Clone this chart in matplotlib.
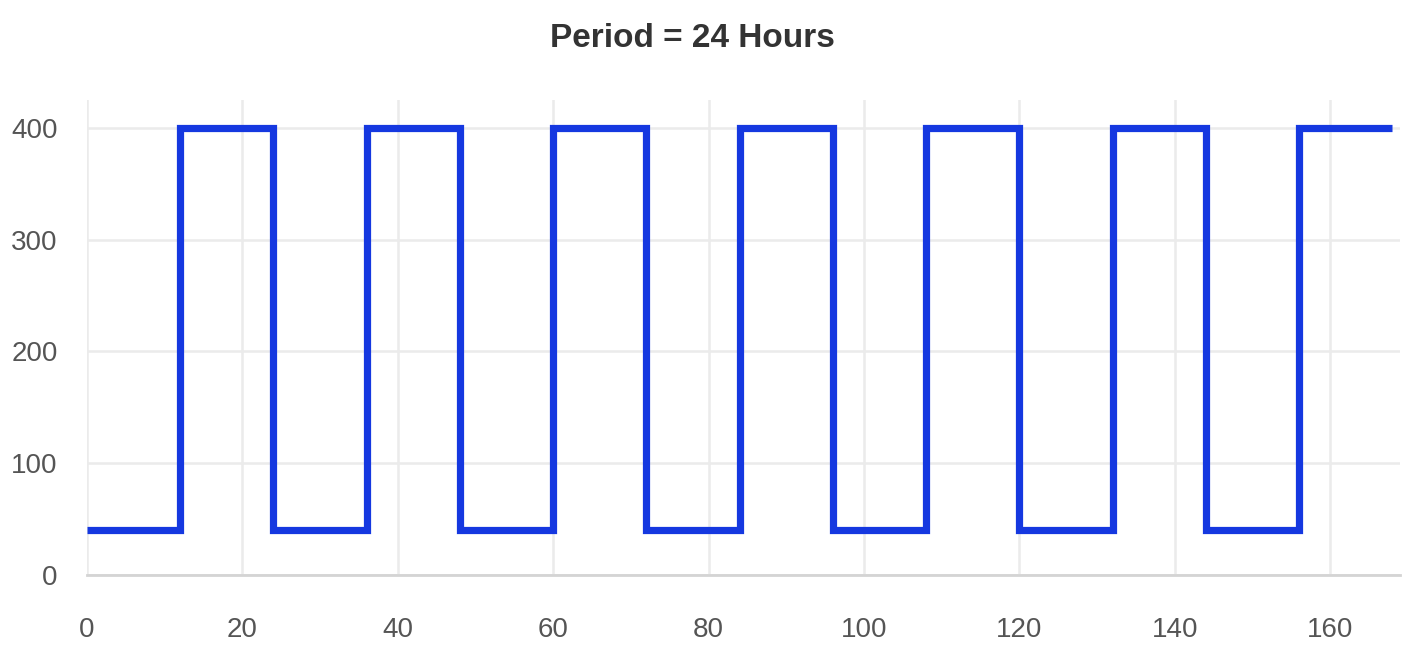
import matplotlib
matplotlib.use("Agg")
import matplotlib.pyplot as plt

# Square-wave schedule: 12 h low, 12 h high, repeated over one week
hours = [0, 12, 24, 36, 48, 60, 72, 84, 96, 108, 120, 132, 144, 156, 168]
levels = [40, 400, 40, 400, 40, 400, 40, 400, 40, 400, 40, 400, 40, 400, 400]
x_ticks = [0, 20, 40, 60, 80, 100, 120, 140, 160]
y_ticks = [0, 100, 200, 300, 400]
title = "Period = 24 Hours"

plt.rcParams["font.family"] = ["Liberation Sans", "DejaVu Sans"]

fig = plt.figure(figsize=(14.05, 6.53), dpi=100)
ax = fig.add_axes([87 / 1405, 1 - 575 / 653, (1400 - 87) / 1405, (575 - 100) / 653])

ax.step(hours, levels, where="post", color="#1538e0", linewidth=5.2,
        solid_joinstyle="miter", solid_capstyle="butt", zorder=3)

ax.set_xlim(0, 169)
ax.set_ylim(0, 425)
ax.set_xticks(x_ticks)
ax.set_yticks(y_ticks)
ax.grid(True, color="#ebebeb", linewidth=1.8)
ax.set_axisbelow(True)
for side in ("top", "right", "left"):
    ax.spines[side].set_visible(False)
ax.spines["bottom"].set_color("#d4d4d4")
ax.spines["bottom"].set_linewidth(2)
ax.tick_params(length=0, labelsize=20, labelcolor="#555555")
ax.tick_params(axis="x", pad=30)
ax.tick_params(axis="y", pad=21)

fig.text(692 / 1405, 1 - 47 / 653, title, ha="center", va="baseline",
         fontsize=24, fontweight="bold", color="#333333")

fig.savefig("out.png", dpi=100, facecolor="white")
